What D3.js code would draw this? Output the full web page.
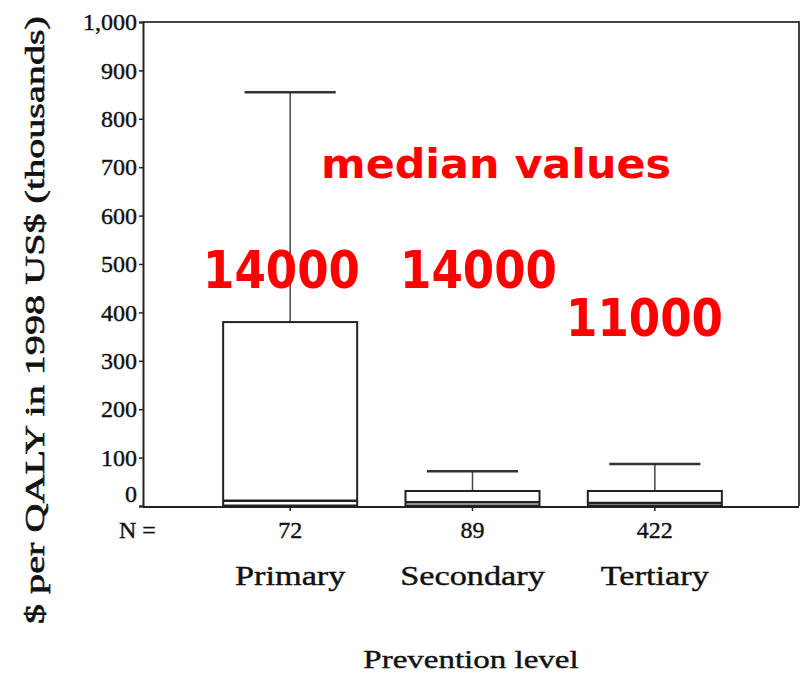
<!DOCTYPE html>
<html><head><meta charset="utf-8">
<script src="https://cdn.jsdelivr.net/npm/d3@7"></script>
<style>body{margin:0;background:#fff}svg{display:block}</style>
</head><body>
<svg id="c" width="801" height="673"></svg>
<script>
const categories = ["Primary", "Secondary", "Tertiary"];
const counts = ["72", "89", "422"];
const q1 = [1, 1, 1];
const median = [11, 8, 6];
const q3 = [380, 31, 31];
const whiskerHigh = [855, 72, 87];
const medianLabels = ["14000", "14000", "11000"];
const yTicks = [0, 100, 200, 300, 400, 500, 600, 700, 800, 900, 1000];

const svg = d3.select("#c");
const L = 143, R = 799, T = 22, B = 506;
const y = d3.scaleLinear().domain([0, 1000]).range([B, T]);
const x = d3.scaleBand().domain(categories).range([199, 746]);
const ink = "#222";
const serif = "'Liberation Serif','Times New Roman',serif";

// frame
svg.append("path").attr("d", `M${L},${T}H${R}V${B}`).attr("fill", "none").attr("stroke", "#444").attr("stroke-width", 2);
svg.append("line").attr("x1", L).attr("x2", R).attr("y1", B + 1).attr("y2", B + 1).attr("stroke", ink).attr("stroke-width", 2);

// y axis
const ya = svg.append("g").attr("transform", `translate(${L},0)`)
  .call(d3.axisLeft(y).tickValues(yTicks).tickFormat(d3.format(",")).tickSize(4).tickPadding(2));
ya.select(".domain").attr("stroke", ink).attr("stroke-width", 2);
ya.selectAll(".tick line").attr("stroke", ink).attr("stroke-width", 1.5);
ya.selectAll(".tick text").attr("font-family", serif).attr("font-size", 24).attr("fill", "#111")
  .attr("stroke", "#111").attr("stroke-width", 0.4)
  .attr("dy", d => d === 0 ? "-0.2em" : "0.32em");

// boxes
const g = svg.append("g");
const catScale = 1.27;
categories.forEach((c, i) => {
  const cx = x(c) + x.bandwidth() / 2;
  const bw = x.bandwidth() * 0.735, cw = x.bandwidth() * 0.5;
  g.append("line").attr("x1", cx).attr("x2", cx).attr("y1", y(whiskerHigh[i])).attr("y2", y(q3[i])).attr("stroke", "#444").attr("stroke-width", 1.5);
  g.append("line").attr("x1", cx - cw / 2).attr("x2", cx + cw / 2).attr("y1", y(whiskerHigh[i])).attr("y2", y(whiskerHigh[i])).attr("stroke", "#333").attr("stroke-width", 2.5);
  g.append("rect").attr("x", cx - bw / 2).attr("width", bw).attr("y", y(q3[i])).attr("height", y(q1[i]) - y(q3[i]))
    .attr("fill", "#fff").attr("stroke", "#222").attr("stroke-width", 2);
  g.append("line").attr("x1", cx - bw / 2).attr("x2", cx + bw / 2).attr("y1", y(median[i])).attr("y2", y(median[i])).attr("stroke", "#222").attr("stroke-width", 2.5);
  svg.append("text").attr("x", cx).attr("y", 538).attr("text-anchor", "middle").attr("font-family", serif).attr("font-size", 24).attr("fill", "#111")
    .attr("stroke", "#111").attr("stroke-width", 0.4).text(counts[i]);
  svg.append("text").attr("transform", `translate(${cx},585) scale(${catScale},1)`).attr("text-anchor", "middle")
    .attr("font-family", serif).attr("font-size", 27).attr("fill", "#111").attr("stroke", "#111").attr("stroke-width", 0.4).text(c);
  svg.append("line").attr("x1", cx).attr("x2", cx).attr("y1", B).attr("y2", B + 5).attr("stroke", ink).attr("stroke-width", 1.5);
});

svg.append("text").attr("x", 119).attr("y", 538).attr("font-family", serif).attr("font-size", 24).attr("fill", "#111")
  .attr("stroke", "#111").attr("stroke-width", 0.4).text("N =");
svg.append("text").attr("transform", `translate(471,668) scale(${catScale},1)`).attr("text-anchor", "middle")
  .attr("font-family", serif).attr("font-size", 26).attr("fill", "#111").attr("stroke", "#111").attr("stroke-width", 0.4).text("Prevention level");
svg.append("text").attr("transform", "translate(44,320) rotate(-90)").attr("text-anchor", "middle")
  .attr("font-family", serif).attr("font-size", 27).attr("fill", "#111").attr("stroke", "#111").attr("stroke-width", 0.6)
  .attr("textLength", 608).attr("lengthAdjust", "spacingAndGlyphs").text("$ per QALY in 1998 US$ (thousands)");

// red annotations
const sans = "'DejaVu Sans',sans-serif";
svg.append("text").attr("x", 321).attr("y", 178).attr("font-family", sans).attr("font-weight", "bold").attr("font-size", 40).attr("fill", "#ff0000")
  .attr("textLength", 350).attr("lengthAdjust", "spacingAndGlyphs").text("median values");
const labelX = [203, 400, 566], labelBase = [288, 288, 336];
medianLabels.forEach((t, i) => {
  svg.append("text").attr("x", labelX[i]).attr("y", labelBase[i]).attr("font-family", sans).attr("font-size", 52).attr("fill", "#ff0000")
    .attr("font-weight", "bold").attr("textLength", 157).attr("lengthAdjust", "spacingAndGlyphs").text(t);
});
</script>
</body></html>
